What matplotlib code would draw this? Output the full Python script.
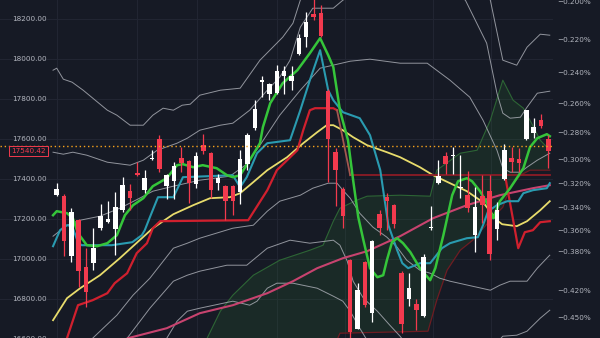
import matplotlib.pyplot as plt
from matplotlib.transforms import blended_transform_factory

# daily candles
opens = [17320, 17315, 17015, 17198, 16962, 16982, 17155, 17188, 17150, 17245,
         17342, 17432, 17348, 17500, 17603, 17365, 17392, 17508, 17492, 17375,
         17570, 17532, 17382, 17365, 17365, 17337, 17478, 17658, 17888, 17825,
         17832, 17915, 17892, 18025, 18112, 18225, 18232, 17842, 17537, 17353,
         16997, 16653, 16987, 16732, 17225, 17312, 17270, 16932, 16803, 16778,
         16715, 17155, 17380, 17515, 17518, 17355, 17322, 17122, 17315, 17342,
         17153, 17400, 17507, 17503, 17603, 17632, 17698, 17600]
highs = [17380, 17328, 17255, 17203, 17058, 17158, 17275, 17290, 17335, 17412,
         17375, 17485, 17445, 17545, 17620, 17425, 17487, 17562, 17495, 17537,
         17625, 17535, 17428, 17370, 17370, 17545, 17630, 17795, 17915, 17882,
         17970, 17965, 17965, 18128, 18237, 18300, 18270, 17850, 17555, 17360,
         17000, 16882, 16992, 17095, 17245, 17332, 17275, 16940, 16932, 16800,
         17028, 17265, 17495, 17537, 17562, 17520, 17440, 17360, 17420, 17420,
         17287, 17578, 17560, 17555, 17748, 17708, 17725, 17620]
lows = [17315, 17015, 16987, 16862, 16762, 16945, 17145, 17182, 17020, 17237,
        17248, 17418, 17330, 17495, 17437, 17303, 17303, 17437, 17282, 17358,
        17528, 17308, 17345, 17195, 17220, 17275, 17445, 17648, 17812, 17795,
        17828, 17828, 17848, 18022, 18062, 18195, 18110, 17385, 17265, 17158,
        16590, 16650, 16760, 16687, 17120, 17145, 17158, 16630, 16765, 16645,
        16710, 17148, 17378, 17425, 17428, 17305, 17238, 17038, 17180, 16997,
        17098, 17395, 17437, 17437, 17598, 17605, 17655, 17458]
closes = [17352, 17092, 17238, 16942, 16837, 17057, 17215, 17203, 17262, 17370,
          17308, 17422, 17407, 17508, 17453, 17420, 17465, 17483, 17382, 17517,
          17542, 17345, 17407, 17292, 17292, 17503, 17622, 17753, 17898, 17875,
          17942, 17942, 17915, 18108, 18187, 18212, 18115, 17603, 17445, 17215,
          16638, 16845, 16770, 17090, 17158, 17292, 17178, 16678, 16858, 16745,
          17012, 17160, 17415, 17475, 17522, 17363, 17255, 17263, 17270, 17025,
          17245, 17545, 17487, 17482, 17745, 17662, 17665, 17540]

# indicator lines: knots as (candle index, price)
green_x = [-0.5, 0.0, 1.4, 2.2, 2.9, 4.1, 5.5, 6.9, 8.2, 9.3, 10.4, 11.8, 13.1, 15.0,
           16.4, 17.2, 18.6, 19.9, 21.8, 23.2, 24.0, 25.0, 26.3, 27.7, 28.1, 29.1,
           30.8, 32.8, 34.5, 35.9, 37.0, 37.7, 38.6, 39.7, 40.4, 41.1, 41.8, 42.7,
           43.7, 44.5, 45.0, 45.7, 46.4, 47.2, 48.2, 49.5, 50.9, 51.6, 52.7, 53.9,
           54.7, 55.9, 56.6, 57.7, 58.8, 59.5, 60.4, 61.8, 63.6, 64.5, 65.5, 66.8, 67.2]
green_y = [17220, 17240, 17230, 17205, 17130, 17070, 17065, 17080, 17120, 17220, 17270,
           17305, 17365, 17405, 17470, 17475, 17460, 17470, 17455, 17420, 17410, 17420,
           17495, 17580, 17660, 17780, 17880, 17945, 18030, 18105, 18020, 17960, 17745,
           17595, 17395, 17210, 17095, 16955, 16910, 16920, 16995, 17085, 17105, 17080,
           17035, 16955, 16895, 16955, 17120, 17320, 17390, 17405, 17390, 17340, 17270,
           17205, 17290, 17355, 17455, 17560, 17605, 17625, 17615]

cyan_x = [-0.5, 0.45, 1.4, 2.1, 2.9, 3.4, 7.5, 10.3, 11.6, 12.0, 12.7, 13.8, 15.9, 17.2,
          24.0, 25.0, 25.9, 27.3, 28.7, 31.8, 33.2, 34.5, 35.9, 37.0, 37.7, 39.0, 41.3,
          42.7, 44.1, 45.2, 46.4, 47.1, 47.9, 49.5, 50.9, 52.5, 53.6, 55.9, 57.4, 58.1,
          58.8, 60.0, 61.4, 62.9, 63.6, 64.9, 66.8, 67.2]
cyan_y = [17065, 17145, 17170, 17165, 17085, 17070, 17070, 17085, 17120, 17145, 17210,
          17310, 17310, 17410, 17420, 17360, 17410, 17530, 17580, 17595, 17745, 17895,
          18045, 17845, 17795, 17735, 17705, 17620, 17445, 17170, 17045, 16980, 16955,
          16980, 16980, 17055, 17080, 17105, 17110, 17170, 17240, 17270, 17290, 17290,
          17330, 17345, 17355, 17380]

red_x = [1.4, 2.9, 4.9, 6.9, 7.9, 9.6, 10.9, 12.3, 13.1, 14.1, 26.1, 28.7, 30.0, 31.4,
         32.8, 33.6, 34.5, 35.2, 37.7, 38.2]
red_y = [16605, 16770, 16795, 16830, 16880, 16930, 17030, 17080, 17155, 17190, 17195,
         17345, 17445, 17495, 17545, 17645, 17745, 17755, 17755, 17745]
red_drop_x = [38.2, 40.0]
red_drop_y = [17745, 17420]
red_flat_x = [40.0, 61.1, 67.2]
red_flat_y = [17420, 17420, 17420]
red_end_x = [61.1, 62.9, 63.8, 64.9, 65.9, 67.2]
red_end_y = [17420, 17055, 17135, 17145, 17185, 17190]

yellow_x = [-0.5, 1.4, 3.2, 5.9, 8.6, 11.3, 13.1, 15.9, 18.6, 20.9, 23.6, 25.0, 26.3,
            28.7, 31.4, 33.6, 35.5, 36.8, 37.7, 39.0, 40.4, 42.3, 45.0, 46.8, 49.5,
            51.3, 53.6, 55.9, 58.1, 60.0, 60.7, 62.7, 64.1, 65.9, 67.2]
yellow_y = [16695, 16805, 16855, 16920, 17005, 17095, 17155, 17225, 17270, 17305, 17310,
            17330, 17370, 17445, 17510, 17580, 17635, 17670, 17670, 17645, 17610, 17570,
            17535, 17510, 17460, 17420, 17380, 17340, 17285, 17195, 17175, 17165, 17190,
            17245, 17290]

pink_x = [9.7, 15.0, 19.5, 24.0, 28.7, 32.2, 35.5, 39.0, 42.3, 46.8, 51.3, 55.9, 60.4,
          64.9, 67.2]
pink_y = [16605, 16655, 16730, 16770, 16830, 16890, 16955, 17005, 17040, 17115, 17205,
          17270, 17320, 17355, 17370]

up3_x = [-0.5, 0.0, 0.9, 2.1, 3.6, 6.9, 8.2, 10.0, 11.8, 13.1, 14.5, 15.9, 17.1, 18.2,
         19.5, 22.3, 25.0, 27.7, 30.8, 32.2, 33.2, 34.5, 46.8, 57.7, 59.1, 60.8, 62.7,
         64.1, 65.9, 67.2]
up3_y = [17945, 17955, 17900, 17885, 17845, 17745, 17720, 17670, 17670, 17720, 17755,
         17745, 17770, 17775, 17820, 17845, 17855, 17995, 18110, 18180, 18295, 18420,
         18495, 18370, 18295, 17995, 17970, 18060, 18125, 18120]
up2_x = [-0.5, 0.9, 2.2, 4.1, 6.9, 10.0, 11.8, 13.7, 16.4, 17.8, 19.5, 22.3, 24.0, 26.3,
         28.7, 30.4, 31.8, 33.2, 34.9, 37.7, 39.0, 41.3, 53.6, 55.7, 58.6, 60.0, 60.8,
         61.8, 63.2, 64.1, 65.5, 67.2]
up2_y = [17535, 17525, 17535, 17520, 17485, 17470, 17495, 17545, 17580, 17605, 17645,
         17670, 17680, 17745, 17845, 17910, 17995, 18160, 18255, 18255, 18295, 18345,
         18345, 18295, 18080, 17830, 17730, 17705, 17710, 17760, 17830, 17840]
up1_x = [-0.5, 1.4, 3.2, 5.9, 8.6, 11.3, 13.1, 15.9, 19.5, 23.6, 25.7, 27.7, 30.4, 33.2,
         35.9, 40.0, 42.7, 46.8, 50.5, 53.6, 56.3, 58.1, 60.0, 60.8, 61.8, 63.2, 64.1,
         65.5, 67.2]
up1_y = [17115, 17170, 17195, 17215, 17255, 17305, 17340, 17365, 17395, 17415, 17470,
         17570, 17720, 17845, 17955, 17990, 18000, 17980, 17980, 17895, 17810, 17695,
         17545, 17455, 17435, 17435, 17460, 17495, 17530]
lo1_x = [4.9, 8.2, 10.4, 12.7, 15.9, 17.8, 19.5, 24.0, 26.8, 28.7, 30.4, 33.2, 34.9,
         37.0, 38.2, 39.0, 40.0, 41.3, 43.1, 45.0, 46.4, 47.7, 49.5, 50.9, 52.2, 53.6,
         59.1, 60.4, 61.8, 64.1, 65.5, 66.8, 67.2]
lo1_y = [16605, 16720, 16820, 16905, 17055, 17080, 17105, 17155, 17170, 17240, 17290,
         17320, 17355, 17380, 17380, 17345, 17305, 17230, 17160, 17110, 17060, 16995,
         16945, 16930, 16905, 16890, 16845, 16870, 16890, 16890, 16955, 17005, 17020]
lo2_x = [9.6, 12.7, 15.9, 17.8, 19.5, 23.2, 25.9, 28.7, 31.8, 34.5, 37.7, 38.6, 39.6,
         40.4, 41.8, 43.7, 45.4, 46.8, 48.2, 59.1, 60.8, 62.7, 64.1, 65.9, 67.2]
lo2_y = [16605, 16755, 16890, 16920, 16940, 16970, 16970, 17055, 17095, 17080, 17095,
         17070, 16990, 16890, 16805, 16740, 16670, 16615, 16545, 16545, 16615, 16620,
         16640, 16705, 16745]
lo3_x = [15.0, 16.4, 17.8, 19.5, 24.0, 26.3, 27.3, 28.7, 30.0, 32.2, 35.5, 37.7, 39.0,
         40.0, 41.3, 42.3, 43.4]
lo3_y = [16605, 16690, 16740, 16755, 16790, 16770, 16790, 16855, 16880, 16880, 16855,
         16815, 16790, 16740, 16655, 16595, 16495]

cloud_top_x = [19.5, 20.5, 22.3, 24.0, 26.8, 30.4, 34.5, 36.3, 37.7, 38.6, 40.9, 42.3,
               46.8, 50.9, 51.8, 55.0, 57.3, 59.1, 60.8, 62.2, 63.6, 64.5, 65.9, 67.2]
cloud_top_y = [16495, 16605, 16740, 16820, 16920, 16995, 17045, 17070, 17190, 17255,
               17295, 17315, 17320, 17315, 17445, 17530, 17545, 17695, 17895, 17795,
               17755, 17695, 17595, 17545]
cloud_bot_x = [19.5, 37.9, 38.6, 50.6, 51.8, 53.2, 55.0, 56.7, 59.1, 60.8, 61.8, 63.2,
               64.5, 67.2]
cloud_bot_y = [16495, 16570, 16630, 16640, 16795, 16945, 17045, 17095, 17195, 17260,
               17360, 17420, 17445, 17445]

price_ticks = [18200, 18000, 17800, 17600, 17400, 17200, 17000, 16800, 16600]
pct_ticks = [18287, 18101, 17932, 17776, 17632, 17500, 17376, 17256, 17142, 17036,
             16844, 16711]
pct_labels = ['\u22120.200%', '\u22120.220%', '\u22120.240%', '\u22120.260%',
              '\u22120.280%', '\u22120.300%', '\u22120.320%', '\u22120.340%',
              '\u22120.360%', '\u22120.380%', '\u22120.420%', '\u22120.450%']
time_grid = [0.0, 10.9, 19.1, 30.0, 39.3, 51.3, 59.2]
last_price = 17540.42
marker_line = 17565

bg = '#161a25'
txt = '#b2b5be'
up_col = '#ffffff'
dn_col = '#f23a4e'

fig = plt.figure(figsize=(6, 3.38), dpi=100, facecolor=bg)
ax = fig.add_axes([0, 0, 553 / 600, 1])
ax.set_facecolor(bg)
ax.set_xlim(-7.73, 67.64)
ax.set_ylim(16606, 18296)
for s in ax.spines.values():
    s.set_visible(False)
ax.set_xticks([])

for p in price_ticks:
    ax.axhline(p, color='#222633', lw=0.7, zorder=0)
for t in time_grid:
    ax.axvline(t, color='#222633', lw=0.7, zorder=0)

# cloud
bot = [(x, y) for x, y in zip(cloud_bot_x, cloud_bot_y)]
top = [(x, y) for x, y in zip(cloud_top_x, cloud_top_y)]
poly = top + bot[::-1]
ax.fill([p[0] for p in poly], [p[1] for p in poly], color='#2e7d32', alpha=0.17,
        lw=0, zorder=1)
ax.plot(cloud_top_x, cloud_top_y, color='#2d6535', lw=0.8, zorder=1.5)
ax.plot(cloud_bot_x, cloud_bot_y, color='#6e1c22', lw=0.9, zorder=1.5)

gray = '#a7aab2'
for xs, ys in [(up3_x, up3_y), (up2_x, up2_y), (up1_x, up1_y),
               (lo1_x, lo1_y), (lo2_x, lo2_y), (lo3_x, lo3_y)]:
    ax.plot(xs, ys, color=gray, lw=0.7, alpha=0.85, zorder=2)

ax.plot(pink_x, pink_y, color='#c8436f', lw=1.5, zorder=3)
ax.plot(yellow_x, yellow_y, color='#e8dc6c', lw=1.3, zorder=3)
ax.plot(red_flat_x, red_flat_y, color='#8c1c26', lw=1.3, zorder=3)
ax.plot(red_x, red_y, color='#d0202e', lw=1.6, zorder=3)
ax.plot(red_drop_x, red_drop_y, color='#a4574f', lw=1.3, zorder=3)
ax.plot(red_end_x, red_end_y, color='#d0202e', lw=1.6, zorder=3)
ax.plot(cyan_x, cyan_y, color='#2a9bb0', lw=1.5, zorder=3.5)
ax.plot(green_x, green_y, color='#35c53a', lw=1.8, zorder=4)

# candles
for i, (o, h, l, c) in enumerate(zip(opens, highs, lows, closes)):
    col = up_col if c >= o else dn_col
    ax.vlines(i, l, h, color=col, lw=0.9, zorder=5)
    ax.bar(i, max(abs(c - o), 5), bottom=min(o, c), width=0.62, color=col,
           lw=0, zorder=6)

ax.axhline(marker_line, color='#f7a21b', lw=1.0, ls=(0, (1, 2)), zorder=7)

tr = blended_transform_factory(ax.transAxes, ax.transData)
for p in price_ticks:
    ax.text(12 / 553, p, f'{p:.2f}', transform=tr, color=txt, fontsize=5.2,
            va='center', ha='left', zorder=8)
ax.text(11 / 553, last_price, f'{last_price:.2f}', transform=tr, color=dn_col,
        fontsize=5.2, va='center', ha='left', zorder=9,
        bbox=dict(boxstyle='square,pad=0.3', fc=bg, ec=dn_col, lw=0.7))

ax.yaxis.tick_right()
ax.set_yticks(pct_ticks, pct_labels)
ax.tick_params(axis='y', length=0, pad=3, labelsize=5.2, labelcolor=txt)

fig.savefig('out.png', dpi=100, facecolor=bg)
